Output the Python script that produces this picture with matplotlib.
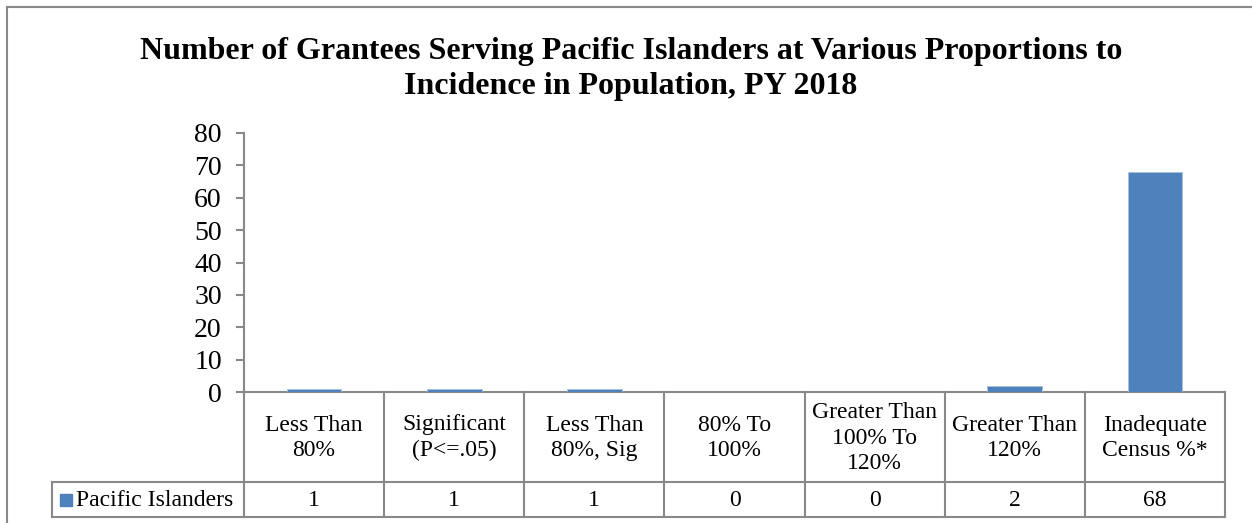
import matplotlib
matplotlib.use("Agg")
import matplotlib.pyplot as plt
from matplotlib.transforms import blended_transform_factory

categories = ["Less Than\n80%", "Significant\n(P<=.05)", "Less Than\n80%, Sig", "80% To\n100%",
              "Greater Than\n100% To\n120%", "Greater Than\n120%", "Inadequate\nCensus %*"]
values = [1, 1, 1, 0, 0, 2, 68]
series_name = "Pacific Islanders"
yticks = [0, 10, 20, 30, 40, 50, 60, 70, 80]
title = "Number of Grantees Serving Pacific Islanders at Various Proportions to\nIncidence in Population, PY 2018"

W, H = 1252, 523
plt.rcParams['font.family'] = ['Liberation Serif', 'DejaVu Serif']
fig = plt.figure(figsize=(W / 100, H / 100), dpi=100)

def fx(px):
    return px / W

def fy(py):
    return 1 - py / H

BAR = "#4F81BD"
GRID = "#898989"
FS = 17

# plot area
x0, x1 = 244, 1225
ytop, ybot = 133, 392
ax = fig.add_axes([fx(x0), fy(ybot), fx(x1) - fx(x0), (ybot - ytop) / H])
n = len(categories)
ax.bar(range(n), values, width=0.39, color=BAR, edgecolor="#A7C0DE", linewidth=0.6, zorder=3)
ax.set_xlim(-0.5, n - 0.5)
ax.set_ylim(0, 80)
ax.set_yticks(yticks)
ax.set_yticklabels([str(t) for t in yticks], fontsize=20)
ax.set_xticks([])
for s in ["top", "right"]:
    ax.spines[s].set_visible(False)
for s in ["left", "bottom"]:
    ax.spines[s].set_color(GRID)
    ax.spines[s].set_linewidth(1.5)
ax.tick_params(axis="y", length=6, width=1.5, color=GRID, pad=10)

# outer chart frame
fig.add_artist(plt.Line2D([fx(7), fx(7)], [fy(7), fy(H + 5)], color=GRID, lw=1.5))
fig.add_artist(plt.Line2D([fx(7), fx(W + 5)], [fy(7), fy(7)], color=GRID, lw=1.5))

# title
fig.text(fx(631), fy(69), title, ha="center", va="center", fontsize=23,
         fontweight="bold", linespacing=1.28)

# data table
tr = blended_transform_factory(ax.transData, fig.transFigure)
hdr_bot, row_bot, leg_left = 482, 517, 52
lw = 1.5
ax.plot([-0.5, n - 0.5], [fy(hdr_bot)] * 2, transform=tr, color=GRID, lw=lw, clip_on=False)
ax.plot([-0.5, n - 0.5], [fy(row_bot)] * 2, transform=tr, color=GRID, lw=lw, clip_on=False)
fig.add_artist(plt.Line2D([fx(leg_left), fx(x0)], [fy(hdr_bot)] * 2, color=GRID, lw=lw))
fig.add_artist(plt.Line2D([fx(leg_left), fx(x0)], [fy(row_bot)] * 2, color=GRID, lw=lw))
fig.add_artist(plt.Line2D([fx(leg_left)] * 2, [fy(hdr_bot), fy(row_bot)], color=GRID, lw=lw))
for i in range(n + 1):
    ax.plot([i - 0.5] * 2, [fy(ybot), fy(row_bot)], transform=tr, color=GRID, lw=lw, clip_on=False)
for i, (c, v) in enumerate(zip(categories, values)):
    ax.text(i, fy(438), c, transform=tr, ha="center", va="center", fontsize=FS,
            linespacing=1.3)
    ax.text(i, fy(500), str(v), transform=tr, ha="center", va="center", fontsize=FS)
# legend entry
fig.add_artist(plt.Rectangle((fx(60), fy(506)), 12 / W, 12 / H, color=BAR))
fig.text(fx(76), fy(500), series_name, ha="left", va="center", fontsize=FS)

fig.savefig("out.png", dpi=100)
